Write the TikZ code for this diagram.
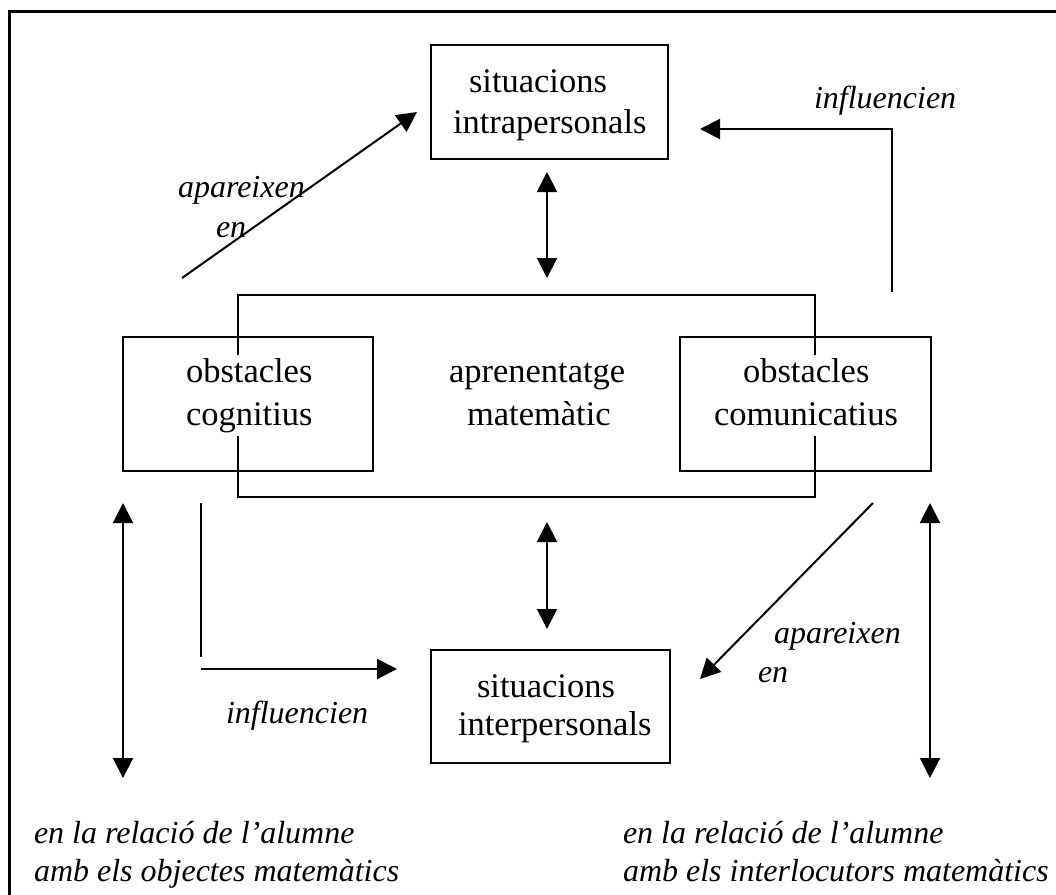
\documentclass[tikz,border=0pt]{standalone}
\usepackage{fontspec}
\setmainfont{Liberation Serif}
\usetikzlibrary{arrows.meta,fit}
\begin{document}
\begin{tikzpicture}[x=0.5pt,y=-0.5pt,line width=1pt,
  boxframe/.style={draw,line width=1pt,inner sep=0pt},
  region/.style={inner sep=0pt,outer sep=0pt},
  plaintext/.style={font=\fontsize{17.25}{20}\selectfont,inner sep=0pt,anchor=base west},
  lbl/.style={font=\fontsize{16}{19}\selectfont\itshape,inner sep=0pt,anchor=base west},
  tip/.style={-{Triangle[length=10pt,width=10pt]}},
  dtip/.style={{Triangle[length=10pt,width=10pt]}-{Triangle[length=10pt,width=10pt]}}]
\useasboundingbox (0,0) rectangle (1056,895);

% outer border (top and left edges)
\coordinate (bl) at (9,895);
\coordinate (tl) at (9,11);
\coordinate (tr) at (1056,11);
\draw[line width=1.5pt] (bl) -- (tl) -- (tr);

% boxes
\node[boxframe,fit={(431,45)(668,159)}] (intra) {};
\node[boxframe,fit={(123,337)(373,471)}] (cogn) {};
\node[boxframe,fit={(680,337)(931,471)}] (comu) {};
\node[boxframe,fit={(431,650)(670,763)}] (inter) {};

% central frame: its sides break where they cross the two side texts
\node[region,fit={(238,295)(815,497)}] (apren) {};
\coordinate (gapTL) at (238,355); \coordinate (gapBL) at (238,436);
\coordinate (gapTR) at (815,355); \coordinate (gapBR) at (815,436);
\draw[line join=miter] (gapTL) -- (apren.north west) -- (apren.north east) -- (gapTR);
\draw[line join=miter] (gapBL) -- (apren.south west) -- (apren.south east) -- (gapBR);

% box texts
\node[plaintext] (intraA) at (468,92) {situacions};
\node[plaintext] (intraB) at (452,133) {intrapersonals};
\node[plaintext] (cognA) at (185,382) {obstacles};
\node[plaintext] (cognB) at (185,425) {cognitius};
\node[plaintext] (aprenA) at (448,382) {aprenentatge};
\node[plaintext] (aprenB) at (466,425) {matemàtic};
\node[plaintext] (comuA) at (742,382) {obstacles};
\node[plaintext] (comuB) at (713,425) {comunicatius};
\node[plaintext] (interA) at (476,697) {situacions};
\node[plaintext] (interB) at (457,735) {interpersonals};

% connector end points
\coordinate (a1s) at (182,278);  \coordinate (a1e) at (417,112);
\coordinate (a2s) at (892,292);  \coordinate (a2c) at (892,129); \coordinate (a2e) at (700,129);
\coordinate (a3s) at (201,503);  \coordinate (a3c) at (201,657);
\coordinate (a3t) at (201,669);  \coordinate (a3e) at (397,669);
\coordinate (a4s) at (873,503);  \coordinate (a4e) at (700,679);
\coordinate (d1s) at (547,172);  \coordinate (d1e) at (547,278);
\coordinate (d2s) at (547,522);  \coordinate (d2e) at (547,629);
\coordinate (d3s) at (123,503);  \coordinate (d3e) at (123,778);
\coordinate (d4s) at (930,503);  \coordinate (d4e) at (930,778);

% connectors
\draw[tip] (a1s) -- (a1e);
\draw[tip] (a2s) -- (a2c) -- (a2e);
\draw (a3s) -- (a3c);
\draw[tip] (a3t) -- (a3e);
\draw[tip] (a4s) -- (a4e);
\draw[dtip] (d1s) -- (d1e);
\draw[dtip] (d2s) -- (d2e);
\draw[dtip] (d3s) -- (d3e);
\draw[dtip] (d4s) -- (d4e);

% connector labels
\node[lbl] (l1a) at (177,197) {apareixen};
\node[lbl] (l1b) at (215,237) {en};
\node[lbl] (l2) at (813,108) {influencien};
\node[lbl] (l3) at (225,723) {influencien};
\node[lbl] (l4a) at (773,643) {apareixen};
\node[lbl] (l4b) at (757,682) {en};

% bottom captions
\node[lbl] (capLa) at (33,843) {en la relació de l’alumne};
\node[lbl] (capLb) at (33,881) {amb els objectes matemàtics};
\node[lbl] (capRa) at (622,843) {en la relació de l’alumne};
\node[lbl] (capRb) at (622,881) {amb els interlocutors matemàtics};
\end{tikzpicture}
\end{document}
